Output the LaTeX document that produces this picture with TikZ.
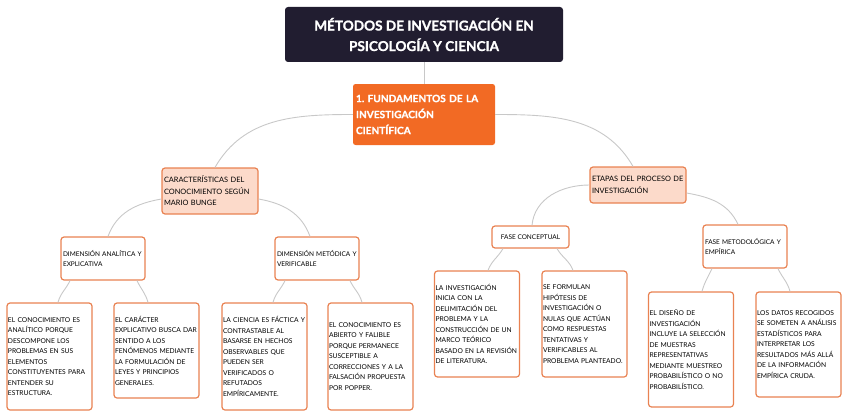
\documentclass[tikz,border=0pt]{standalone}
\usepackage{fontspec}
\setmainfont{Lato}
\newfontfamily\heavyfont{Lato}[BoldFeatures={FakeBold=1.2}]
\definecolor{navy}{HTML}{211D30}
\definecolor{fundorange}{HTML}{F26A24}
\definecolor{peach}{HTML}{FCDACA}
\definecolor{edgeorange}{HTML}{E98252}
\definecolor{linkgray}{HTML}{C8C8C8}
\frenchspacing
\begin{document}
\begin{tikzpicture}[x=1pt, y=1pt,
    link/.style={draw=linkgray, line width=0.9pt},
    titlebox/.style={fill=navy, text=white, rounded corners=3pt, align=center,
        minimum width=278pt, minimum height=55pt,
        font=\fontsize{13.6}{20.5}\selectfont\heavyfont\bfseries},
    fundbox/.style={fill=fundorange, text=white, rounded corners=2.5pt, align=left,
        text width=136pt, minimum height=61pt, inner xsep=3pt,
        font=\fontsize{10.1}{16}\selectfont\heavyfont\bfseries},
    topicbox/.style={fill=peach, draw=edgeorange, line width=1.2pt, rounded corners=3pt,
        align=left, inner xsep=2pt, font=\fontsize{7.4}{11.5}\selectfont},
    subbox/.style={fill=white, draw=edgeorange, line width=1.2pt, rounded corners=3pt,
        align=left, inner xsep=2pt, font=\fontsize{6.5}{10}\selectfont},
    leafbox/.style={fill=white, draw=edgeorange, line width=1.2pt, rounded corners=3pt,
        align=left, inner xsep=1pt, text width=83pt,
        font=\fontsize{6.7}{10.5}\selectfont}]
    \useasboundingbox (0,0) rectangle (848,416);

    % Title and main topic
    \node[titlebox] (title) at (424,381.5) {MÉTODOS DE INVESTIGACIÓN EN\\PSICOLOGÍA Y CIENCIA};
    \node[fundbox] (fund) at (424,301.5) {1. FUNDAMENTOS DE LA\\INVESTIGACIÓN\\CIENTÍFICA};

    % Left branch
    \node[topicbox, text width=92pt, minimum height=46pt] (carac) at (210,225)
        {CARACTERÍSTICAS DEL\\CONOCIMIENTO SEGÚN\\MARIO BUNGE};
    \node[subbox, text width=80pt, minimum height=43pt] (dimA) at (103,157.5)
        {DIMENSIÓN ANALÍTICA Y\\EXPLICATIVA};
    \node[subbox, text width=80pt, minimum height=43pt] (dimM) at (317,157.5)
        {DIMENSIÓN METÓDICA Y\\VERIFICABLE};

    \node[leafbox, minimum height=107pt] (L1) at (49.5,59.5)
        {EL CONOCIMIENTO ES\\ANALÍTICO PORQUE\\DESCOMPONE LOS\\PROBLEMAS EN SUS\\ELEMENTOS\\CONSTITUYENTES PARA\\ENTENDER SU\\ESTRUCTURA.};
    \node[leafbox, minimum height=95pt] (L2) at (156.5,65.5)
        {EL CARÁCTER\\EXPLICATIVO BUSCA DAR\\SENTIDO A LOS\\FENÓMENOS MEDIANTE\\LA FORMULACIÓN DE\\LEYES Y PRINCIPIOS\\GENERALES.};
    \node[leafbox, minimum height=107pt] (L3) at (264.5,59.5)
        {LA CIENCIA ES FÁCTICA Y\\CONTRASTABLE AL\\BASARSE EN HECHOS\\OBSERVABLES QUE\\PUEDEN SER\\VERIFICADOS O\\REFUTADOS\\EMPÍRICAMENTE.};
    \node[leafbox, minimum height=107pt] (L4) at (370.5,59.5)
        {EL CONOCIMIENTO ES\\ABIERTO Y FALIBLE\\PORQUE PERMANECE\\SUSCEPTIBLE A\\CORRECCIONES Y A LA\\FALSACIÓN PROPUESTA\\POR POPPER.};

    % Right branch
    \node[topicbox, text width=92pt, minimum height=36pt] (etapas) at (638,231)
        {ETAPAS DEL PROCESO DE\\INVESTIGACIÓN};
    \node[subbox, minimum width=77pt, minimum height=22pt, align=center] (faseC) at (530.5,179)
        {FASE CONCEPTUAL};
    \node[subbox, text width=80pt, minimum height=43pt] (faseM) at (745,169.5)
        {FASE METODOLÓGICA Y\\EMPÍRICA};

    \node[leafbox, minimum height=106pt] (L5) at (477,92)
        {LA INVESTIGACIÓN\\INICIA CON LA\\DELIMITACIÓN DEL\\PROBLEMA Y LA\\CONSTRUCCIÓN DE UN\\MARCO TEÓRICO\\BASADO EN LA REVISIÓN\\DE LITERATURA.};
    \node[leafbox, minimum height=106pt] (L6) at (584.5,92)
        {SE FORMULAN\\HIPÓTESIS DE\\INVESTIGACIÓN O\\NULAS QUE ACTÚAN\\COMO RESPUESTAS\\TENTATIVAS Y\\VERIFICABLES AL\\PROBLEMA PLANTEADO.};
    \node[leafbox, minimum height=115pt] (L7) at (691,66.5)
        {EL DISEÑO DE\\INVESTIGACIÓN\\INCLUYE LA SELECCIÓN\\DE MUESTRAS\\REPRESENTATIVAS\\MEDIANTE MUESTREO\\PROBABILÍSTICO O NO\\PROBABILÍSTICO.};
    \node[leafbox, minimum height=105pt] (L8) at (798.5,71.5)
        {LOS DATOS RECOGIDOS\\SE SOMETEN A ANÁLISIS\\ESTADÍSTICOS PARA\\INTERPRETAR LOS\\RESULTADOS MÁS ALLÁ\\DE LA INFORMACIÓN\\EMPÍRICA CRUDA.};

    % Connectors
    \draw[link] (title.south) -- (fund.north);
    \draw[link] (fund.west) to[out=180, in=60] ([xshift=5pt]carac.north);
    \draw[link] (fund.east) to[out=0, in=120] ([xshift=-5pt]etapas.north);

    \draw[link] ([yshift=-8pt]carac.west) to[out=190, in=70] ([xshift=5pt]dimA.north);
    \draw[link] ([yshift=-8pt]carac.east) to[out=-10, in=110] ([xshift=-7pt]dimM.north);
    \draw[link] (etapas.west) to[out=180, in=85] ([xshift=1.5pt]faseC.north);
    \draw[link] ([yshift=-8pt]etapas.east) to[out=-10, in=115] ([xshift=-7pt]faseM.north);

    \draw[link] ([xshift=-33pt]dimA.south) to[out=-115, in=75] ([xshift=8.5pt]L1.north);
    \draw[link] ([xshift=34pt]dimA.south) to[out=-65, in=105] ([xshift=-8.5pt]L2.north);
    \draw[link] ([xshift=-32pt]dimM.south) to[out=-115, in=75] ([xshift=8.5pt]L3.north);
    \draw[link] ([xshift=33pt]dimM.south) to[out=-65, in=105] ([xshift=-8.5pt]L4.north);
    \draw[link] ([xshift=-27.5pt]faseC.south) to[out=-120, in=70] ([xshift=11pt]L5.north);
    \draw[link] ([xshift=26.5pt]faseC.south) to[out=-60, in=110] ([xshift=-11.5pt]L6.north);
    \draw[link] ([xshift=-33pt]faseM.south) to[out=-115, in=75] ([xshift=11pt]L7.north);
    \draw[link] ([xshift=33pt]faseM.south) to[out=-65, in=105] ([xshift=-8.5pt]L8.north);
\end{tikzpicture}
\end{document}
